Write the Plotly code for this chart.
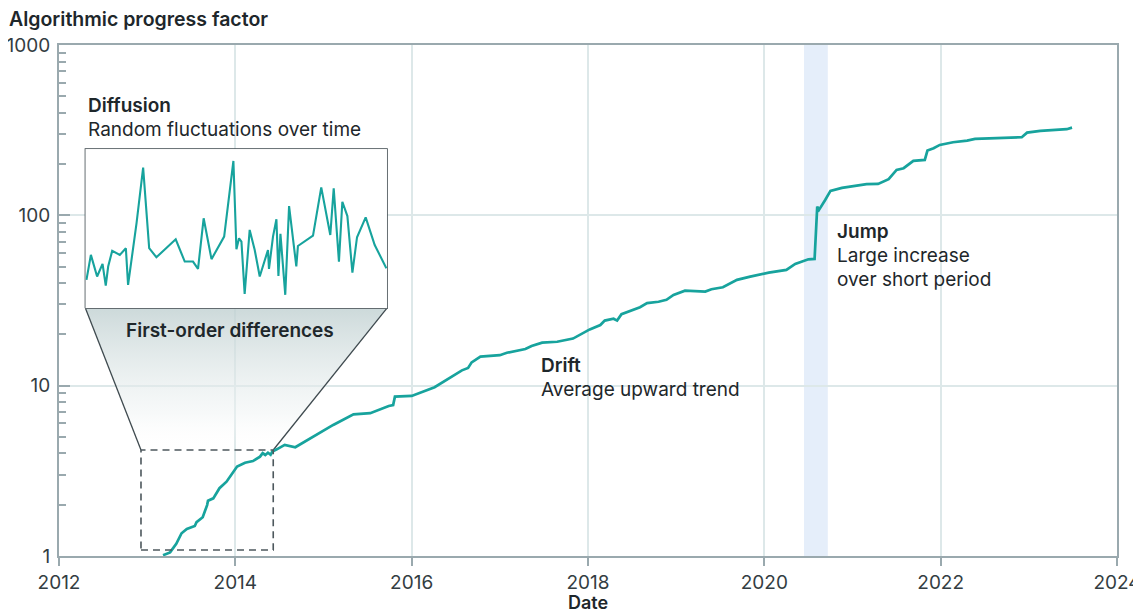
import math
import plotly.graph_objects as go

# ---------------- data ----------------
years = [2013.18, 2013.26, 2013.33, 2013.39, 2013.45, 2013.54, 2013.56, 2013.63, 2013.68, 2013.69,
         2013.75, 2013.82, 2013.90, 2013.98, 2014.02, 2014.11, 2014.20, 2014.28, 2014.31, 2014.34,
         2014.37, 2014.40, 2014.42, 2014.47, 2014.56, 2014.68, 2014.85, 2015.00, 2015.11, 2015.34,
         2015.53, 2015.74, 2015.79, 2015.81, 2016.00, 2016.26, 2016.40, 2016.57, 2016.64, 2016.68,
         2016.78, 2017.00, 2017.08, 2017.29, 2017.36, 2017.48, 2017.65, 2017.83, 2018.02, 2018.14,
         2018.19, 2018.29, 2018.33, 2018.38, 2018.59, 2018.67, 2018.80, 2018.89, 2018.97, 2019.10,
         2019.33, 2019.40, 2019.53, 2019.69, 2019.84, 2020.05, 2020.25, 2020.35, 2020.50, 2020.57,
         2020.60, 2020.62, 2020.69, 2020.75, 2020.88, 2021.01, 2021.16, 2021.29, 2021.41, 2021.50,
         2021.58, 2021.69, 2021.82, 2021.85, 2021.92, 2021.99, 2022.14, 2022.30, 2022.39, 2022.92,
         2022.98, 2023.13, 2023.28, 2023.43, 2023.49]
progress = [1.01, 1.05, 1.18, 1.36, 1.44, 1.50, 1.58, 1.69, 1.99, 2.11,
            2.18, 2.50, 2.73, 3.13, 3.35, 3.53, 3.61, 3.83, 4.02, 3.92,
            4.04, 3.93, 4.10, 4.23, 4.49, 4.35, 4.91, 5.50, 5.88, 6.79,
            6.89, 7.60, 7.70, 8.62, 8.70, 9.79, 10.8, 12.3, 12.7, 13.7,
            14.8, 15.1, 15.6, 16.4, 17.1, 17.9, 18.1, 18.9, 21.4, 22.7,
            24.1, 24.7, 24.1, 26.3, 28.9, 30.5, 31.1, 31.9, 34.1, 36.1,
            35.7, 36.8, 37.8, 41.8, 43.7, 46.1, 47.8, 51.8, 55.2, 55.5,
            112.5, 107.6, 123.1, 139.1, 144.9, 148.8, 152.3, 152.9, 162.9, 184.8,
            189.1, 208.7, 211.5, 239.9, 247.7, 259.1, 268.7, 274.6, 280.9, 287.4,
            305.9, 313.1, 317.4, 320.4, 327.3]

# first-order differences shown in the inset (arbitrary units)
diff_years = [2012.935, 2012.957, 2012.988, 2013.015, 2013.031, 2013.043, 2013.063, 2013.101, 2013.131, 2013.142,
              2013.184, 2013.217, 2013.247, 2013.283, 2013.379, 2013.424, 2013.465, 2013.490, 2013.518, 2013.557,
              2013.620, 2013.666, 2013.681, 2013.694, 2013.706, 2013.722, 2013.747, 2013.772, 2013.797, 2013.838,
              2013.843, 2013.863, 2013.880, 2013.890, 2013.900, 2013.924, 2013.943, 2013.979, 2013.987, 2014.062,
              2014.103, 2014.148, 2014.165, 2014.191, 2014.208, 2014.233, 2014.258, 2014.281, 2014.324, 2014.369,
              2014.427]
diff_values = [0.178, 0.335, 0.199, 0.278, 0.142, 0.262, 0.360, 0.335, 0.377, 0.146,
               0.533, 0.883, 0.377, 0.320, 0.433, 0.293, 0.293, 0.247, 0.565, 0.308,
               0.450, 0.925, 0.370, 0.439, 0.418, 0.090, 0.492, 0.366, 0.199, 0.366,
               0.247, 0.450, 0.559, 0.203, 0.467, 0.084, 0.642, 0.262, 0.391, 0.456,
               0.759, 0.460, 0.753, 0.293, 0.669, 0.579, 0.224, 0.446, 0.571, 0.397,
               0.251]

x_ticks = [2012, 2014, 2016, 2018, 2020, 2022, 2024]
y_ticks = [1, 10, 100, 1000]
y_ticktext = ["1", "10", "100", "1000"]
y_minor = [m * d for d in (1, 10, 100) for m in range(2, 10)]

jump_window = (2020.45, 2020.72)
zoom_x = (2012.93, 2014.43)     # dashed zoom window (x)
zoom_y = (1.084, 4.19)          # dashed zoom window (y)
inset_x = (2012.30, 2015.72)    # inset box placement on main axes
inset_y = (28.5, 245.0)

# ---------------- style ----------------
FONT = "Inter"
TEAL = "#17a39d"
AXIS = "#9aa9ae"
GRID = "#dde8e9"
TXT = "#1e272b"
DARK = "#3f4a4f"
X_RANGE = (2012, 2024)
Y_RANGE_LOG = (0, 3)
PAGE_OFFSET = 8          # default body margin of the html page
FIG_W, FIG_H = 1141 - PAGE_OFFSET, 613 - PAGE_OFFSET
PLOT_L, PLOT_T, PLOT_W, PLOT_H = 59, 45, 1058, 511   # plot area in window pixels

def to_paper_x(x):
    return (x - X_RANGE[0]) / (X_RANGE[1] - X_RANGE[0])

def to_paper_y(y):
    return (math.log10(y) - Y_RANGE_LOG[0]) / (Y_RANGE_LOG[1] - Y_RANGE_LOG[0])

fig = go.Figure()

# inset white background (hides gridlines)
fig.add_trace(go.Scatter(
    x=[inset_x[0], inset_x[1], inset_x[1], inset_x[0], inset_x[0]],
    y=[inset_y[0], inset_y[0], inset_y[1], inset_y[1], inset_y[0]],
    fill="toself", fillcolor="white", mode="lines", line=dict(width=0),
    hoverinfo="skip", showlegend=False))

# gradient funnel from inset to zoom window
fig.add_trace(go.Scatter(
    x=[inset_x[0], inset_x[1], zoom_x[1], zoom_x[0], inset_x[0]],
    y=[inset_y[0], inset_y[0], zoom_y[1], zoom_y[1], inset_y[0]],
    fill="toself", mode="lines", line=dict(width=0),
    fillgradient=dict(type="vertical",
                      colorscale=[[0, "rgba(255,255,255,0)"], [0.25, "rgba(240,244,244,0.5)"],
                                  [1, "rgba(192,208,209,0.8)"]]),
    hoverinfo="skip", showlegend=False))

# funnel edges
for xi, xz in ((inset_x[0], zoom_x[0]), (inset_x[1], zoom_x[1])):
    fig.add_trace(go.Scatter(x=[xi, xz], y=[inset_y[0], zoom_y[1]], mode="lines",
                             line=dict(color=DARK, width=1.3), hoverinfo="skip", showlegend=False))

# main line
fig.add_trace(go.Scatter(x=years, y=progress, mode="lines",
                         line=dict(color=TEAL, width=2.7), showlegend=False,
                         name="Algorithmic progress factor"))

# inset border
fig.add_trace(go.Scatter(
    x=[inset_x[0], inset_x[1], inset_x[1], inset_x[0], inset_x[0]],
    y=[inset_y[0], inset_y[0], inset_y[1], inset_y[1], inset_y[0]],
    mode="lines", line=dict(color=DARK, width=1.6), hoverinfo="skip", showlegend=False))

# inset line
fig.add_trace(go.Scatter(x=diff_years, y=diff_values, mode="lines",
                         line=dict(color=TEAL, width=2.1), xaxis="x2", yaxis="y2",
                         showlegend=False, name="First-order differences"))

# jump band
fig.add_vrect(x0=jump_window[0], x1=jump_window[1], fillcolor="#e5eefa",
              line_width=0, layer="below")

# dashed zoom window
fig.add_shape(type="rect", xref="x", yref="y", x0=zoom_x[0], x1=zoom_x[1],
              y0=zoom_y[0], y1=zoom_y[1], line=dict(color="#4d585d", width=1.6, dash="7px,5px"),
              layer="above")

tickfont = dict(family=FONT, size=19, color="#333d42")

fig.update_layout(
    width=FIG_W, height=FIG_H, autosize=False,
    margin=dict(l=PLOT_L - PAGE_OFFSET, r=FIG_W + PAGE_OFFSET - PLOT_L - PLOT_W,
                t=PLOT_T - PAGE_OFFSET, b=FIG_H + PAGE_OFFSET - PLOT_T - PLOT_H,
                autoexpand=False),
    paper_bgcolor="white", plot_bgcolor="white",
    title=dict(text="Algorithmic progress factor", x=(9 - PAGE_OFFSET) / FIG_W, xanchor="left",
               y=1 - (19 - PAGE_OFFSET) / FIG_H, yanchor="middle", automargin=False,
               font=dict(family=FONT, size=19.5, color=TXT, weight=600)),
    xaxis=dict(range=list(X_RANGE), tickvals=x_ticks, ticks="outside", ticklen=8, tickwidth=2,
               tickcolor=AXIS, showline=True, linecolor=AXIS, linewidth=2, mirror=True,
               showgrid=True, gridcolor=GRID, gridwidth=1.5, zeroline=False, tickfont=tickfont,
               automargin=False,
               title=dict(text="Date", standoff=11,
                          font=dict(family=FONT, size=18, color=TXT, weight=600))),
    yaxis=dict(type="log", range=list(Y_RANGE_LOG), tickvals=y_ticks, ticktext=y_ticktext,
               ticks="inside", ticklen=11, tickwidth=2, tickcolor=AXIS,
               showline=True, linecolor=AXIS, linewidth=2, mirror=True,
               showgrid=True, gridcolor=GRID, gridwidth=1.5, zeroline=False,
               tickfont=tickfont, ticklabelstandoff=3, automargin=False,
               minor=dict(tickvals=y_minor, ticks="inside", ticklen=7, tickwidth=2,
                          tickcolor=AXIS, showgrid=False)),
    xaxis2=dict(domain=[to_paper_x(inset_x[0]), to_paper_x(inset_x[1])], range=list(zoom_x),
                visible=False, anchor="y2", fixedrange=True),
    yaxis2=dict(domain=[to_paper_y(inset_y[0]), to_paper_y(inset_y[1])], range=[0, 1],
                visible=False, anchor="x2", fixedrange=True),
    showlegend=False,
)

def label(text, px, py, bold=False, size=19, anchor="left"):
    fig.add_annotation(text=text, xref="paper", yref="paper",
                       x=(px - PLOT_L) / PLOT_W, y=(PLOT_T + PLOT_H - py) / PLOT_H,
                       xanchor=anchor, yanchor="middle", showarrow=False,
                       font=dict(family=FONT, size=size, color=TXT, weight=600 if bold else 400))

label("Diffusion", 86, 105, bold=True)
label("Random fluctuations over time", 86, 129)
label("First-order differences", 230, 330, bold=True, anchor="center")
label("Drift", 539, 365, bold=True)
label("Average upward trend", 539, 389)
label("Jump", 835, 231, bold=True)
label("Large increase", 835, 255)
label("over short period", 835, 279)

fig.write_html("out.html")
